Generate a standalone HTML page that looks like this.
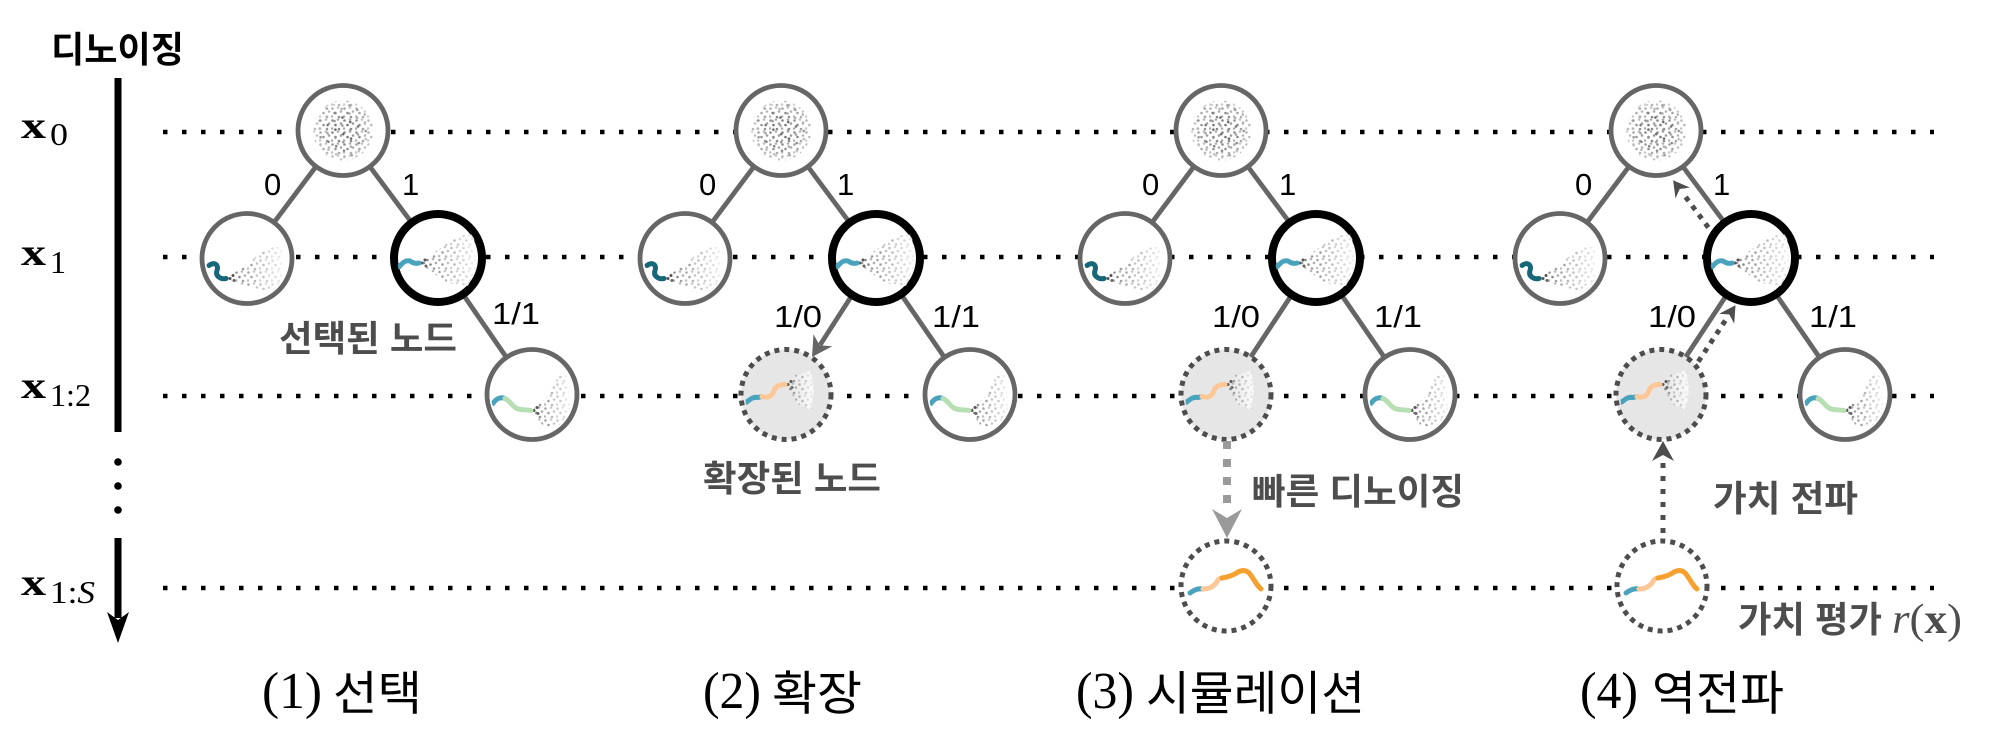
<!DOCTYPE html>
<html><head><meta charset="utf-8"><style>html,body{margin:0;padding:0;background:#fff}svg{display:block}</style></head>
<body>
<svg width="1994" height="754" viewBox="0 0 1994 754" xmlns="http://www.w3.org/2000/svg">
<defs>
<clipPath id="cc"><circle cx="0" cy="0" r="41"/></clipPath>
<pattern id="pa" width="12" height="12" patternUnits="userSpaceOnUse">
<circle cx="1.5" cy="2" r="1.3" fill="#888"/><circle cx="7" cy="1" r="1.3" fill="#aaa"/><circle cx="4.5" cy="6.5" r="1.3" fill="#777"/><circle cx="10" cy="5" r="1.3" fill="#999"/><circle cx="1" cy="10" r="1.3" fill="#aaa"/><circle cx="8" cy="10.5" r="1.3" fill="#888"/>
</pattern>
<pattern id="pb" width="9" height="14" patternUnits="userSpaceOnUse" patternTransform="rotate(30)">
<circle cx="2" cy="3" r="1.3" fill="#666"/><circle cx="6" cy="10" r="1.3" fill="#999"/>
</pattern>
<linearGradient id="wf" x1="0" y1="0" x2="1" y2="0"><stop offset="0.1" stop-color="#fff" stop-opacity="0"/><stop offset="1" stop-color="#fff" stop-opacity="0.85"/></linearGradient>
<radialGradient id="rf"><stop offset="0.4" stop-color="#fff" stop-opacity="0"/><stop offset="1" stop-color="#fff" stop-opacity="0.5"/></radialGradient>

<g id="cloud"><circle r="30" fill="url(#pa)"/><circle r="28" fill="url(#pb)"/><circle r="31" fill="url(#rf)"/></g>

<g id="nL" clip-path="url(#cc)">
<polygon points="-20,20 0,5 20,-10 35,-12 35,30 20,32 0,28" fill="url(#pa)"/>
<polygon points="-20,20 0,5 20,-10 35,-12 35,30 20,32 0,28" fill="url(#wf)"/>
<circle cx="-17" cy="20" r="1.5" fill="#555"/><circle cx="-14" cy="17" r="1.5" fill="#555"/><circle cx="-13" cy="22" r="1.5" fill="#666"/>
<path d="M-38,7 C-33,3 -28,6 -30,12 C-32,18 -26,21 -21,20" fill="none" stroke="#17677a" stroke-width="5" stroke-linecap="round"/>
</g>
<g id="nS" clip-path="url(#cc)">
<polygon points="-19,5 0,-8 20,-22 36,-24 38,10 30,28 10,25" fill="url(#pa)"/>
<polygon points="-19,5 0,-8 20,-22 36,-24 38,10 30,28 10,25" fill="url(#wf)"/>
<circle cx="-16" cy="5" r="1.5" fill="#555"/><circle cx="-13" cy="2" r="1.5" fill="#555"/><circle cx="-12" cy="8" r="1.5" fill="#666"/>
<path d="M-39,9 C-35,4 -32,2 -28,3 C-25,5 -22,6 -19,5" fill="none" stroke="#4aa3bd" stroke-width="5" stroke-linecap="round"/>
</g>
<g id="nE" clip-path="url(#cc)">
<polygon points="0,-10 10,-20 25,-24 28,-5 25,15 12,10" fill="url(#pa)"/>
<polygon points="0,-10 10,-20 25,-24 28,-5 25,15 12,10" fill="url(#wf)"/>
<circle cx="2" cy="-10" r="1.5" fill="#555"/><circle cx="5" cy="-13" r="1.5" fill="#555"/><circle cx="6" cy="-7" r="1.5" fill="#666"/>
<path d="M-40,8 C-36,5 -33,2 -28,3 L-24,2" fill="none" stroke="#4aa3bd" stroke-width="5" stroke-linecap="round"/>
<path d="M-24,2 C-18,4 -14,2 -12,-4 C-10,-9 -6,-10 -1,-10" fill="none" stroke="#fdc896" stroke-width="5" stroke-linecap="round"/>
</g>
<g id="nG" clip-path="url(#cc)">
<polygon points="0,16 15,2 28,-22 35,-18 38,20 25,34 10,30" fill="url(#pa)"/>
<polygon points="0,16 15,2 28,-22 35,-18 38,20 25,34 10,30" fill="url(#wf)"/>
<circle cx="2" cy="16" r="1.5" fill="#555"/><circle cx="5" cy="13" r="1.5" fill="#555"/><circle cx="6" cy="19" r="1.5" fill="#666"/>
<path d="M-39,9 C-36,4 -31,2 -27,4" fill="none" stroke="#4aa3bd" stroke-width="5" stroke-linecap="round"/>
<path d="M-27,4 C-22,6 -20,12 -15,14 C-10,16 -5,15 -1,16" fill="none" stroke="#b7dfb3" stroke-width="5" stroke-linecap="round"/>
</g>
<g id="nB">
<path d="M-36,7 C-32,4 -28,2 -23,3" fill="none" stroke="#4aa3bd" stroke-width="5" stroke-linecap="round"/>
<path d="M-23,3 C-17,3 -13,1 -10,-3 C-8,-7 -6,-8 -4,-8" fill="none" stroke="#fdc896" stroke-width="5" stroke-linecap="round"/>
<path d="M-4,-8 C2,-9 8,-11 12,-14 C16,-16 20,-16 23,-13 C27,-9 30,-1 35,3" fill="none" stroke="#f5a02f" stroke-width="5" stroke-linecap="round"/>
</g>
</defs>

<rect width="1994" height="754" fill="#fff"/>

<!-- dotted level lines -->
<g stroke="#000" stroke-width="4.5" stroke-dasharray="4.5 14.5">
<line x1="163" y1="132" x2="1934" y2="132"/>
<line x1="163" y1="257" x2="1934" y2="257"/>
<line x1="163" y1="396" x2="1934" y2="396"/>
<line x1="163" y1="588" x2="1934" y2="588"/>
</g>

<!-- vertical axis -->
<rect x="114.5" y="78" width="7" height="354" fill="#000"/>
<circle cx="118" cy="462" r="3.8" fill="#000"/>
<circle cx="118" cy="486" r="3.8" fill="#000"/>
<circle cx="118" cy="510" r="3.8" fill="#000"/>
<rect x="114.5" y="538" width="7" height="80" fill="#000"/>
<polygon points="118,643 129,612 118,620 107,612" fill="#000"/>

<!-- edges -->
<g stroke="#666" stroke-width="4.8" fill="none">
<line x1="343" y1="130.5" x2="247" y2="258.5"/><line x1="343" y1="130.5" x2="438" y2="258"/><line x1="438" y1="258" x2="532" y2="394.5"/>
<line x1="781" y1="130.5" x2="685" y2="258.5"/><line x1="781" y1="130.5" x2="876" y2="258"/><line x1="876" y1="258" x2="970" y2="394.5"/>
<line x1="876" y1="258" x2="820" y2="345"/>
<line x1="1221" y1="130.5" x2="1125" y2="258.5"/><line x1="1221" y1="130.5" x2="1316" y2="258"/><line x1="1316" y1="258" x2="1410" y2="394.5"/><line x1="1316" y1="258" x2="1226" y2="394.5"/>
<line x1="1656" y1="130.5" x2="1560" y2="258.5"/><line x1="1656" y1="130.5" x2="1751" y2="258"/><line x1="1751" y1="258" x2="1845" y2="394.5"/><line x1="1751" y1="258" x2="1661" y2="394.5"/>
</g>

<!-- nodes: regular -->
<g fill="#fff" stroke="#666" stroke-width="4.8">
<circle cx="343" cy="130.5" r="45"/><circle cx="247" cy="258.5" r="45"/><circle cx="532" cy="394.5" r="45"/>
<circle cx="781" cy="130.5" r="45"/><circle cx="685" cy="258.5" r="45"/><circle cx="970" cy="394.5" r="45"/>
<circle cx="1221" cy="130.5" r="45"/><circle cx="1125" cy="258.5" r="45"/><circle cx="1410" cy="394.5" r="45"/>
<circle cx="1656" cy="130.5" r="45"/><circle cx="1560" cy="258.5" r="45"/><circle cx="1845" cy="394.5" r="45"/>
</g>
<!-- selected -->
<g fill="#fff" stroke="#000" stroke-width="8">
<circle cx="438" cy="258" r="44"/><circle cx="876" cy="258" r="44"/><circle cx="1316" cy="258" r="44"/><circle cx="1751" cy="258" r="44"/>
</g>
<!-- expanded -->
<g fill="#e6e6e6" stroke="#4d4d4d" stroke-width="5" stroke-dasharray="5 5">
<circle cx="786" cy="394.5" r="45"/><circle cx="1226" cy="394.5" r="45"/><circle cx="1661" cy="394.5" r="45"/>
</g>
<!-- bottom sim nodes -->
<g fill="#fff" stroke="#4d4d4d" stroke-width="5" stroke-dasharray="5 5">
<circle cx="1226" cy="586" r="45"/><circle cx="1662" cy="586" r="45"/>
</g>

<!-- node contents -->
<use href="#cloud" x="343" y="130.5"/><use href="#cloud" x="781" y="130.5"/><use href="#cloud" x="1221" y="130.5"/><use href="#cloud" x="1656" y="130.5"/>
<use href="#nL" x="247" y="258.5"/><use href="#nL" x="685" y="258.5"/><use href="#nL" x="1125" y="258.5"/><use href="#nL" x="1560" y="258.5"/>
<use href="#nS" x="438" y="258"/><use href="#nS" x="876" y="258"/><use href="#nS" x="1316" y="258"/><use href="#nS" x="1751" y="258"/>
<use href="#nG" x="532" y="394.5"/><use href="#nG" x="970" y="394.5"/><use href="#nG" x="1410" y="394.5"/><use href="#nG" x="1845" y="394.5"/>
<use href="#nE" x="786" y="394.5"/><use href="#nE" x="1226" y="394.5"/><use href="#nE" x="1661" y="394.5"/>
<use href="#nB" x="1226" y="586"/><use href="#nB" x="1662" y="586"/>

<!-- P2 expansion arrowhead -->
<polygon points="812,357 832.3,346.2 819.6,345.2 813.5,334.2" fill="#666"/>

<!-- P3 fast denoising arrow -->
<line x1="1227" y1="441" x2="1227" y2="506" stroke="#9a9a9a" stroke-width="8" stroke-dasharray="8 10"/>
<polygon points="1227,538 1242,509 1227,518 1212,509" fill="#9a9a9a"/>

<!-- P4 backprop arrows -->
<line x1="1663" y1="533" x2="1663" y2="458" stroke="#4d4d4d" stroke-width="5" stroke-dasharray="5 8"/>
<polygon points="1663,441 1674,461 1663,455 1652,461" fill="#4d4d4d"/>
<line x1="1698.3" y1="361.6" x2="1727" y2="318" stroke="#4d4d4d" stroke-width="5" stroke-dasharray="5 6"/>
<polygon points="1735.5,305.3 1734.2,323.7 1729.4,314.5 1719.2,313.7" fill="#4d4d4d"/>
<line x1="1708.3" y1="227.5" x2="1682.7" y2="193" stroke="#4d4d4d" stroke-width="5" stroke-dasharray="5 6"/>
<polygon points="1673.1,180.2 1675.5,198.4 1679.7,189 1689.9,187.6" fill="#4d4d4d"/>

<!-- edge labels -->
<g font-family="Liberation Sans, Arial, sans-serif" font-size="31" fill="#000">
<text x="264" y="195">0</text><text x="402" y="195">1</text><text x="492" y="324" textLength="48" lengthAdjust="spacingAndGlyphs">1/1</text>
<text x="699" y="195">0</text><text x="837" y="195">1</text><text x="774" y="327" textLength="48" lengthAdjust="spacingAndGlyphs">1/0</text><text x="932" y="327" textLength="48" lengthAdjust="spacingAndGlyphs">1/1</text>
<text x="1142" y="195">0</text><text x="1279" y="195">1</text><text x="1212" y="327" textLength="48" lengthAdjust="spacingAndGlyphs">1/0</text><text x="1374" y="327" textLength="48" lengthAdjust="spacingAndGlyphs">1/1</text>
<text x="1575" y="195">0</text><text x="1713" y="195">1</text><text x="1648" y="327" textLength="48" lengthAdjust="spacingAndGlyphs">1/0</text><text x="1809" y="327" textLength="48" lengthAdjust="spacingAndGlyphs">1/1</text>
</g>

<!-- annotation labels -->
<g font-family="Liberation Sans, 'Noto Sans CJK KR', sans-serif" font-weight="700" fill="#4d4d4d" font-size="36">
<text x="279" y="351" textLength="178" lengthAdjust="spacingAndGlyphs">선택된 노드</text>
<text x="703" y="491" textLength="178" lengthAdjust="spacingAndGlyphs">확장된 노드</text>
<text x="1252" y="504" textLength="212" lengthAdjust="spacingAndGlyphs">빠른 디노이징</text>
<text x="1713" y="511" textLength="145" lengthAdjust="spacingAndGlyphs">가치 전파</text>
<text x="1738" y="632" textLength="144" lengthAdjust="spacingAndGlyphs">가치 평가</text>
</g>
<text x="1892" y="633" font-family="Liberation Serif, serif" font-size="42" fill="#4d4d4d" textLength="70" lengthAdjust="spacingAndGlyphs"><tspan font-style="italic">r</tspan>(<tspan font-weight="700">x</tspan>)</text>

<text x="51" y="62" font-family="Liberation Sans, 'Noto Sans CJK KR', sans-serif" font-weight="700" font-size="36" fill="#000" textLength="133" lengthAdjust="spacingAndGlyphs">디노이징</text>

<!-- axis labels -->
<g font-family="Liberation Serif, serif" fill="#000">
<text x="21" y="138" font-size="38" font-weight="700" textLength="25" lengthAdjust="spacingAndGlyphs">x</text>
<text x="50" y="145" font-size="32" textLength="18" lengthAdjust="spacingAndGlyphs">0</text>
<text x="21" y="265" font-size="38" font-weight="700" textLength="25" lengthAdjust="spacingAndGlyphs">x</text>
<text x="50" y="273" font-size="32" textLength="16" lengthAdjust="spacingAndGlyphs">1</text>
<text x="21" y="398" font-size="38" font-weight="700" textLength="25" lengthAdjust="spacingAndGlyphs">x</text>
<text x="50" y="406" font-size="32" textLength="41" lengthAdjust="spacingAndGlyphs">1:2</text>
<text x="21" y="595" font-size="38" font-weight="700" textLength="25" lengthAdjust="spacingAndGlyphs">x</text>
<text x="50" y="603" font-size="32" textLength="45" lengthAdjust="spacingAndGlyphs">1:<tspan font-style="italic">S</tspan></text>
</g>

<!-- captions -->
<g font-family="Liberation Serif, serif" font-size="52" fill="#000">
<text x="262" y="708" textLength="60" lengthAdjust="spacingAndGlyphs">(1)</text>
<text x="703" y="708" textLength="58" lengthAdjust="spacingAndGlyphs">(2)</text>
<text x="1076" y="708" textLength="58" lengthAdjust="spacingAndGlyphs">(3)</text>
<text x="1580" y="708" textLength="58" lengthAdjust="spacingAndGlyphs">(4)</text>
</g>
<g font-family="Liberation Sans, 'Noto Sans CJK KR', sans-serif" font-size="47" fill="#000">
<text x="333" y="710" textLength="89" lengthAdjust="spacingAndGlyphs">선택</text>
<text x="772" y="710" textLength="90" lengthAdjust="spacingAndGlyphs">확장</text>
<text x="1146" y="710" textLength="219" lengthAdjust="spacingAndGlyphs">시뮬레이션</text>
<text x="1652" y="710" textLength="132" lengthAdjust="spacingAndGlyphs">역전파</text>
</g>
</svg>
</body></html>
